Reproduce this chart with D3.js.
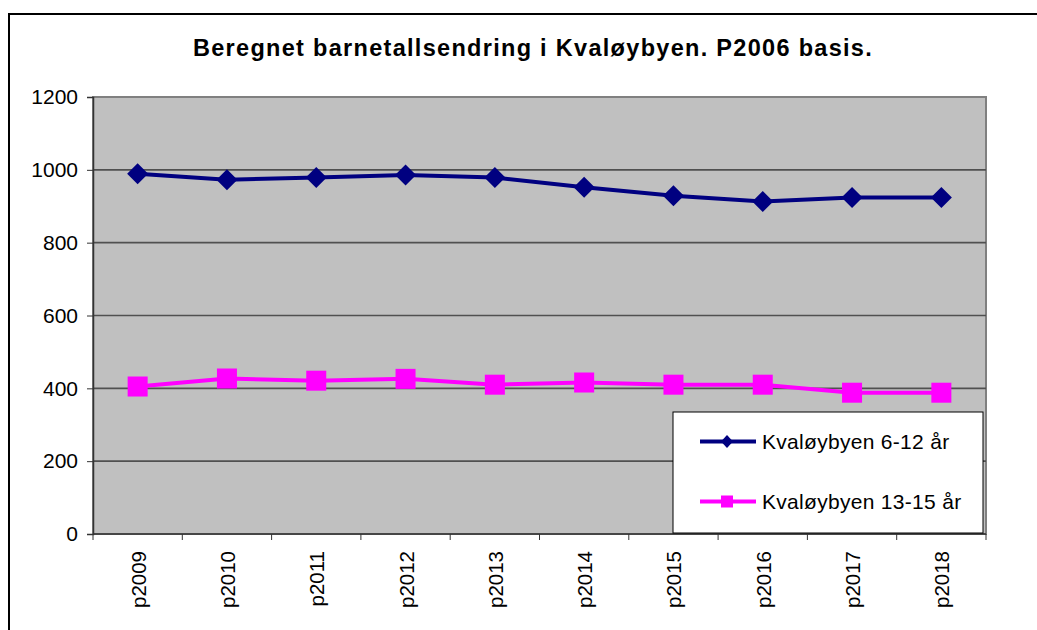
<!DOCTYPE html>
<html>
<head>
<meta charset="utf-8">
<script src="https://cdn.jsdelivr.net/npm/d3@7"></script>
<style>
html,body{margin:0;padding:0;background:#fff;}
svg{display:block;}
text{font-family:"Liberation Sans",Arial,sans-serif;}
</style>
</head>
<body>
<svg id="chart" width="1037" height="630"></svg>
<script>
const categories = ["p2009","p2010","p2011","p2012","p2013","p2014","p2015","p2016","p2017","p2018"];
const series1Name = "Kvaløybyen 6-12 år";
const series1 = [989, 973, 979, 986, 979, 952, 929, 913, 924, 924];
const series2Name = "Kvaløybyen 13-15 år";
const series2 = [405, 427, 421, 426, 410, 416, 410, 410, 388, 388];
const yTicks = [0, 200, 400, 600, 800, 1000, 1200];
const title = "Beregnet barnetallsendring i Kvaløybyen. P2006 basis.";

const svg = d3.select("#chart");
const plot = {left: 93, right: 986, top: 97, bottom: 534};

// outer frame (left + top lines)
svg.append("line").attr("x1", 9).attr("x2", 1037).attr("y1", 14).attr("y2", 14)
  .attr("stroke", "#000").attr("stroke-width", 2);
svg.append("line").attr("x1", 9).attr("x2", 9).attr("y1", 13).attr("y2", 630)
  .attr("stroke", "#000").attr("stroke-width", 2);

svg.append("text").attr("x", 533).attr("y", 56).attr("text-anchor", "middle")
  .attr("font-size", 23.5).attr("font-weight", "bold").attr("letter-spacing", 1.3)
  .attr("fill", "#000").text(title);

const x = d3.scaleBand().domain(categories).range([plot.left, plot.right]);
const y = d3.scaleLinear().domain([0, 1200]).range([plot.bottom, plot.top]);

svg.append("rect").attr("x", plot.left).attr("y", plot.top)
  .attr("width", plot.right - plot.left).attr("height", plot.bottom - plot.top)
  .attr("fill", "#C0C0C0").attr("stroke", "#808080").attr("stroke-width", 2);

// gridlines
svg.append("g").selectAll("line").data(yTicks.filter(d => d > 0 && d < 1200)).join("line")
  .attr("x1", plot.left).attr("x2", plot.right)
  .attr("y1", d => y(d)).attr("y2", d => y(d))
  .attr("stroke", "#505050").attr("stroke-width", 1.6);

// y axis
const yAxis = svg.append("g").attr("transform", `translate(${plot.left},0)`)
  .call(d3.axisLeft(y).tickValues(yTicks).tickSize(6).tickPadding(9).tickFormat(d3.format("d")));
yAxis.select(".domain").attr("stroke", "#333").attr("stroke-width", 1.5);
yAxis.selectAll(".tick line").attr("stroke", "#333");
yAxis.selectAll("text").attr("font-size", 21).attr("fill", "#000")
  .style("font-family", '"Liberation Sans",Arial,sans-serif');

// x axis ticks at category boundaries
const bounds = categories.map(c => x(c)).concat([plot.right]);
svg.append("line").attr("x1", plot.left).attr("x2", plot.right)
  .attr("y1", plot.bottom).attr("y2", plot.bottom).attr("stroke", "#333").attr("stroke-width", 1.5);
svg.append("g").selectAll("line").data(bounds).join("line")
  .attr("x1", d => d).attr("x2", d => d).attr("y1", plot.bottom).attr("y2", plot.bottom + 6)
  .attr("stroke", "#333");
svg.append("g").selectAll("text").data(categories).join("text")
  .attr("transform", d => `translate(${x(d) + x.bandwidth()/2 + 8},${plot.bottom + 17}) rotate(-90)`)
  .attr("text-anchor", "end").attr("font-size", 20.5).attr("fill", "#000").text(d => d);

const cx = c => x(c) + x.bandwidth()/2;
const line = d3.line().x((d, i) => cx(categories[i])).y(d => y(d));

// series 1
svg.append("path").datum(series1).attr("d", line).attr("fill", "none")
  .attr("stroke", "#000080").attr("stroke-width", 4);
svg.append("g").selectAll("path").data(series1).join("path")
  .attr("transform", (d, i) => `translate(${cx(categories[i])},${y(d)})`)
  .attr("d", "M0,-10.5L10.5,0L0,10.5L-10.5,0Z").attr("fill", "#000080");

// series 2
svg.append("path").datum(series2).attr("d", line).attr("fill", "none")
  .attr("stroke", "#FF00FF").attr("stroke-width", 4);
svg.append("g").selectAll("rect").data(series2).join("rect")
  .attr("x", (d, i) => cx(categories[i]) - 10).attr("y", d => y(d) - 10)
  .attr("width", 20).attr("height", 20).attr("fill", "#FF00FF");

// legend
const lg = svg.append("g");
lg.append("rect").attr("x", 673).attr("y", 412).attr("width", 310).attr("height", 121)
  .attr("fill", "#fff").attr("stroke", "#000").attr("stroke-width", 1);
const legendItems = [
  {name: series1Name, color: "#000080", shape: "diamond", yy: 441.5},
  {name: series2Name, color: "#FF00FF", shape: "square", yy: 501.5}
];
legendItems.forEach(it => {
  lg.append("line").attr("x1", 700).attr("x2", 756).attr("y1", it.yy).attr("y2", it.yy)
    .attr("stroke", it.color).attr("stroke-width", 4);
  if (it.shape === "diamond") {
    lg.append("path").attr("transform", `translate(727,${it.yy})`)
      .attr("d", "M0,-6.5L6,0L0,6.5L-6,0Z").attr("fill", it.color);
  } else {
    lg.append("rect").attr("x", 721).attr("y", it.yy - 6).attr("width", 12).attr("height", 12)
      .attr("fill", it.color);
  }
  lg.append("text").attr("x", 762).attr("y", it.yy + 7).attr("font-size", 21)
    .attr("letter-spacing", 0.3).attr("fill", "#000").text(it.name);
});
</script>
</body>
</html>
